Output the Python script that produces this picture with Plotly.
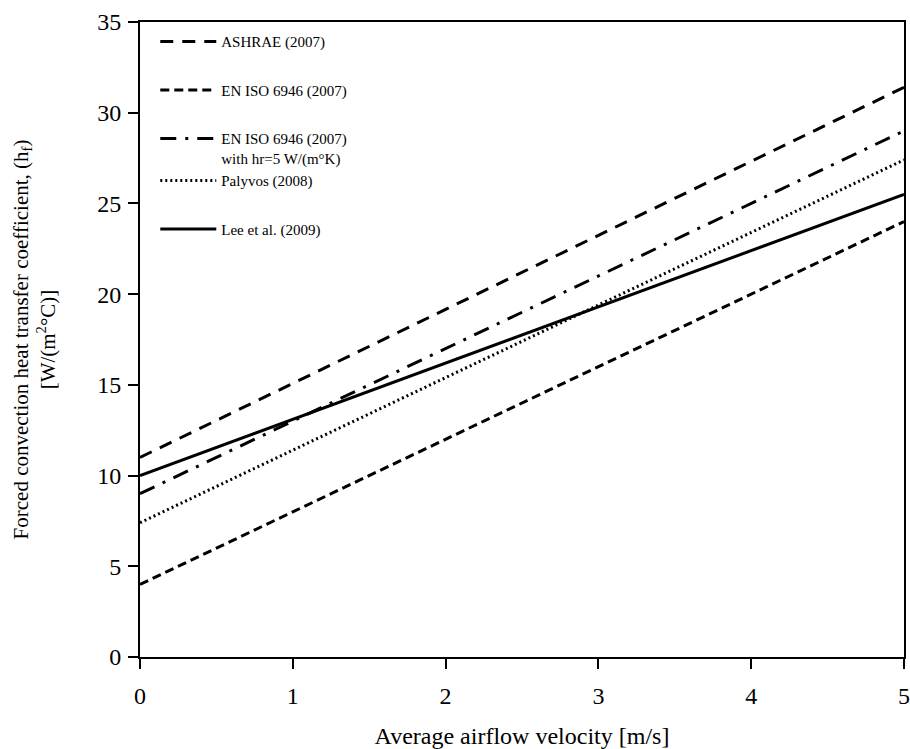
import plotly.graph_objects as go

velocity = [0, 5]
ashrae = [11.0, 31.4]
en_iso = [4.0, 24.0]
en_iso_hr = [9.0, 29.0]
palyvos = [7.4, 27.4]
lee = [10.0, 25.5]

names = ["ASHRAE (2007)", "EN ISO 6946 (2007)",
         "EN ISO 6946 (2007)<br>with hr=5 W/(m°K)", "Palyvos (2008)", "Lee et al. (2009)"]
series = [ashrae, en_iso, en_iso_hr, palyvos, lee]
dashes = ["13px,9px", "9px,5px", "16px,9px,3px,9px", "2px,3px", "solid"]
groups = ["g1", "g2", "g3", "g3", "g4"]

FONT = "Liberation Serif"
fig = go.Figure()
for n, s, d, g in zip(names, series, dashes, groups):
    fig.add_trace(go.Scatter(x=velocity, y=s, mode="lines", name=n, legendgroup=g,
                             line=dict(color="black", width=3, dash=d)))

fig.update_layout(
    width=910, height=749,
    margin=dict(l=140, r=6, t=22, b=92),
    paper_bgcolor="white", plot_bgcolor="white",
    font=dict(family=FONT, color="black"),
    legend=dict(x=0.02, y=0.995, xanchor="left", yanchor="top",
                font=dict(family=FONT, size=15, color="black"),
                traceorder="grouped", tracegroupgap=26, valign="top",
                itemwidth=56,
                bgcolor="rgba(0,0,0,0)"),
    xaxis=dict(range=[0, 5], dtick=1, showgrid=False, zeroline=False,
               showline=True, linecolor="black", linewidth=2, mirror=True,
               ticks="outside", ticklen=10, tickcolor="black", tickwidth=2,
               ticklabelstandoff=6, automargin=False,
               tickfont=dict(size=24, family=FONT),
               title=dict(text="Average airflow velocity [m/s]", font=dict(size=24, family=FONT), standoff=22)),
    yaxis=dict(range=[0, 35], dtick=5, showgrid=False, zeroline=False,
               showline=True, linecolor="black", linewidth=2, mirror=True,
               ticks="outside", ticklen=10, tickcolor="black", tickwidth=2,
               ticklabelstandoff=2, automargin=False,
               tickfont=dict(size=24, family=FONT),
               title=dict(text="Forced convection heat transfer coefficient, (h<sub>f</sub>)<br>[W/(m<sup>2</sup>°C)]",
                          font=dict(size=21, family=FONT), standoff=36)),
)
fig.write_html("out.html")
